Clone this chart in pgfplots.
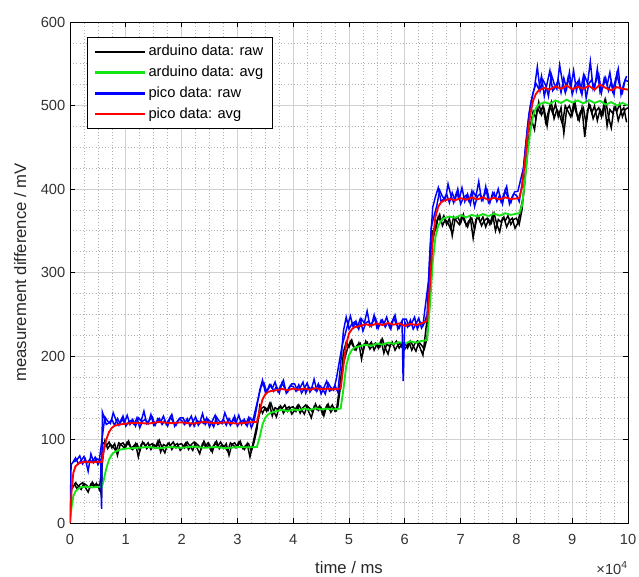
\documentclass[border=0pt]{standalone}
\usepackage{fontspec}
\setmainfont{Liberation Sans}
\usepackage{pgfplots}
\pgfplotsset{compat=1.18}
\definecolor{mgreen}{RGB}{20,230,20}
\definecolor{mblue}{RGB}{0,0,255}
\definecolor{mred}{RGB}{255,0,0}
\begin{document}
\begin{tikzpicture}
\begin{axis}[
  scale only axis, width=418.5pt, height=375.75pt,
  xmin=0, xmax=10, ymin=0, ymax=600,
  xtick={0,1,...,10}, ytick={0,100,...,600},
  minor x tick num=3, minor y tick num=3,
  grid=both,
  major grid style={black!18, line width=0.5pt},
  minor grid style={black!30, dotted, line width=0.45pt},
  tick align=inside, major tick length=4pt, minor tick length=0pt,
  tick style={black, line width=0.5pt},
  axis line style={black, line width=0.6pt},
  /pgf/number format/assume math mode=true,
  ticklabel style={font=\fontsize{11}{13}\selectfont, text=black!80},
  xticklabel style={yshift=-5pt},
  xlabel={time / ms}, ylabel={measurement difference / mV},
  label style={font=\fontsize{12.5}{15}\selectfont, text=black!85},
  xlabel style={yshift=-6pt},
  ylabel style={yshift=4pt},
  legend style={at={(0.030,0.970)}, anchor=north west, draw=black, line width=0.5pt,
    font=\fontsize{11}{13}\selectfont, row sep=2.2pt, inner xsep=5pt, inner ysep=4pt},
  legend cell align=left,
  legend image code/.code={\draw[#1, line width=1.6pt] (0pt,0pt) -- (37.5pt,0pt);},
]
\addplot[black, line width=1.1pt] coordinates {
(0,0) (0.02,40) (0.05,42.6) (0.1,48.2) (0.15,44.2) (0.2,40.2) (0.25,47.4) (0.3,45) (0.35,41.8) (0.4,49) (0.45,43.4) (0.5,45.8) (0.55,38.6) (0.565,30) (0.58,95) (0.6,96) (0.65,92) (0.7,97) (0.75,90) (0.8,95) (0.85,81) (0.9,94) (0.95,96) (1,91) (1.05,98) (1.1,89) (1.15,93) (1.2,95) (1.25,86) (1.3,97) (1.35,92) (1.4,96) (1.45,88) (1.5,94) (1.55,91) (1.6,99) (1.65,90) (1.7,84) (1.75,95) (1.8,93) (1.85,97) (1.9,90) (1.95,94) (2,95) (2.05,90) (2.1,97) (2.15,92) (2.2,87) (2.25,96) (2.3,93) (2.35,89) (2.4,98) (2.45,91) (2.5,94) (2.55,85) (2.6,96) (2.65,92) (2.7,97) (2.75,90) (2.8,95) (2.85,81) (2.9,94) (2.95,96) (3,91) (3.05,98) (3.1,89) (3.15,93) (3.2,95) (3.25,86) (3.3,97) (3.35,112) (3.4,140) (3.45,131.5) (3.5,138) (3.55,134.8) (3.6,143.6) (3.65,133.7) (3.7,127.1) (3.75,139.2) (3.8,137) (3.85,141.4) (3.9,133.7) (3.95,138.1) (4,139.2) (4.05,133.7) (4.1,141.4) (4.15,135.9) (4.2,130.4) (4.25,140.3) (4.3,137) (4.35,132.6) (4.4,142.5) (4.45,134.8) (4.5,138.1) (4.55,128.2) (4.6,140.3) (4.65,135.9) (4.7,141.4) (4.75,133.7) (4.8,139.2) (4.85,165) (4.9,205) (4.95,216.6) (5,210.6) (5.05,219) (5.1,208.2) (5.15,213) (5.2,215.4) (5.25,204.6) (5.3,217.8) (5.35,211.8) (5.4,216.6) (5.45,207) (5.5,214.2) (5.55,210.6) (5.6,220.2) (5.65,209.4) (5.7,202.2) (5.75,215.4) (5.8,213) (5.85,217.8) (5.9,209.4) (5.95,214.2) (6,215.4) (6.05,209.4) (6.1,217.8) (6.15,211.8) (6.2,205.8) (6.25,216.6) (6.3,213) (6.35,208.2) (6.4,222) (6.45,300) (6.5,350) (6.55,350) (6.6,366.5) (6.65,360.5) (6.7,368) (6.75,357.5) (6.8,365) (6.85,344) (6.9,363.5) (6.95,366.5) (7,359) (7.05,369.5) (7.1,356) (7.15,362) (7.2,365) (7.25,351.5) (7.3,368) (7.35,360.5) (7.4,366.5) (7.45,354.5) (7.5,363.5) (7.55,359) (7.6,371) (7.65,357.5) (7.7,348.5) (7.75,365) (7.8,362) (7.85,368) (7.9,357.5) (7.95,363.5) (8,365) (8.05,357.5) (8.1,375) (8.15,410) (8.2,445) (8.25,475) (8.3,493) (8.35,484.2) (8.4,504) (8.45,488.6) (8.5,495.2) (8.55,475.4) (8.6,499.6) (8.65,490.8) (8.7,501.8) (8.75,486.4) (8.8,497.4) (8.85,466.6) (8.9,495.2) (8.95,499.6) (9,488.6) (9.05,504) (9.1,484.2) (9.15,493) (9.2,497.4) (9.25,477.6) (9.3,501.8) (9.35,490.8) (9.4,499.6) (9.45,482) (9.5,495.2) (9.55,488.6) (9.6,506.2) (9.65,486.4) (9.7,473.2) (9.75,497.4) (9.8,493) (9.85,501.8) (9.9,486.4) (9.95,495.2) (10,497.4)
};
\addlegendentry{arduino data: raw}
\addplot[black, line width=1.1pt, forget plot] coordinates {
(0.075,47.4) (0.125,41) (0.175,45.8) (0.225,48.2) (0.275,42.6) (0.325,37) (0.375,46.6) (0.425,44.2) (0.475,47.4) (0.525,40.2)
(0.625,98) (0.675,89) (0.725,94) (0.775,91) (0.825,86) (0.875,96) (0.925,93) (0.975,90) (1.025,97) (1.075,92) (1.125,88) (1.175,95) (1.225,79) (1.275,94) (1.325,96) (1.375,89) (1.425,93) (1.475,95) (1.525,90) (1.575,98) (1.625,85) (1.675,94) (1.725,92) (1.775,96) (1.825,88) (1.875,93) (1.925,95) (1.975,87) (2.025,91) (2.075,96) (2.125,88) (2.175,94) (2.225,97) (2.275,90) (2.325,83) (2.375,95) (2.425,92) (2.475,96) (2.525,87) (2.575,93) (2.625,98) (2.675,89) (2.725,94) (2.775,91) (2.825,86) (2.875,96) (2.925,93) (2.975,90) (3.025,97) (3.075,92) (3.125,88) (3.175,95) (3.225,79) (3.275,94) (3.375,125)
(3.425,137) (3.475,139.2) (3.525,133.7) (3.575,142.5) (3.625,128.2) (3.675,138.1) (3.725,135.9) (3.775,140.3) (3.825,131.5) (3.875,137) (3.925,139.2) (3.975,130.4) (4.025,134.8) (4.075,140.3) (4.125,131.5) (4.175,138.1) (4.225,141.4) (4.275,133.7) (4.325,126) (4.375,139.2) (4.425,135.9) (4.475,140.3) (4.525,130.4) (4.575,137) (4.625,142.5) (4.675,132.6) (4.725,138.1) (4.775,134.8) (4.875,185)
(4.975,209.4) (5.025,217.8) (5.075,211.8) (5.125,207) (5.175,215.4) (5.225,196.2) (5.275,214.2) (5.325,216.6) (5.375,208.2) (5.425,213) (5.475,215.4) (5.525,209.4) (5.575,219) (5.625,203.4) (5.675,214.2) (5.725,211.8) (5.775,216.6) (5.825,207) (5.875,213) (5.925,215.4) (5.975,205.8) (6.025,210.6) (6.075,216.6) (6.125,207) (6.175,214.2) (6.225,217.8) (6.275,209.4) (6.325,201) (6.425,260) (6.475,330)
(6.575,362) (6.625,369.5) (6.675,356) (6.725,363.5) (6.775,359) (6.825,351.5) (6.875,366.5) (6.925,362) (6.975,357.5) (7.025,368) (7.075,360.5) (7.125,354.5) (7.175,365) (7.225,341) (7.275,363.5) (7.325,366.5) (7.375,356) (7.425,362) (7.475,365) (7.525,357.5) (7.575,369.5) (7.625,350) (7.675,363.5) (7.725,360.5) (7.775,366.5) (7.825,354.5) (7.875,362) (7.925,365) (7.975,353) (8.025,359) (8.125,392) (8.175,428) (8.225,462) (8.275,482)
(8.325,471) (8.375,497.4) (8.425,490.8) (8.475,499.6) (8.525,479.8) (8.575,493) (8.625,504) (8.675,484.2) (8.725,495.2) (8.775,488.6) (8.825,477.6) (8.875,499.6) (8.925,493) (8.975,486.4) (9.025,501.8) (9.075,490.8) (9.125,482) (9.175,497.4) (9.225,462.2) (9.275,495.2) (9.325,499.6) (9.375,484.2) (9.425,493) (9.475,497.4) (9.525,486.4) (9.575,504) (9.625,475.4) (9.675,495.2) (9.725,490.8) (9.775,499.6) (9.825,482) (9.875,493) (9.925,497.4) (9.975,479.8)
};
\addplot[mgreen, line width=1.4pt] coordinates {
(0,0) (0.03,20) (0.06,32) (0.1,38) (0.15,41) (0.2,43) (0.3,43.5) (0.4,42.5) (0.5,43.5) (0.57,43) (0.6,50) (0.65,65) (0.7,76) (0.75,82) (0.8,85) (0.9,88) (1,89) (1.2,90) (1.4,91) (1.6,89.5) (1.8,91) (2,90) (2.2,91.5) (2.4,90) (2.6,91) (2.8,89.5) (3,91) (3.2,90.5) (3.35,91) (3.4,103) (3.45,118) (3.5,126) (3.55,130) (3.6,132) (3.7,134) (3.8,135.5) (3.9,134) (4,136) (4.1,135) (4.2,137) (4.3,135.5) (4.4,137.5) (4.5,136) (4.6,137) (4.7,136) (4.85,137) (4.9,160) (4.95,188) (5,201) (5.05,207) (5.1,210) (5.2,212) (5.3,213.5) (5.4,212) (5.5,215) (5.6,213.5) (5.7,216) (5.8,214.5) (5.9,216.5) (6,215) (6.1,217.5) (6.2,216) (6.3,218) (6.4,219) (6.45,260) (6.5,312) (6.55,343) (6.6,356) (6.65,362) (6.7,365) (6.8,367) (6.9,365.5) (7,368.5) (7.1,366) (7.2,369) (7.3,367) (7.4,370) (7.5,367.5) (7.6,370.5) (7.7,368) (7.8,371) (7.9,369) (8.05,371) (8.1,380) (8.15,408) (8.2,442) (8.25,470) (8.3,488) (8.35,497) (8.4,501) (8.5,504) (8.6,502) (8.7,506) (8.8,503) (8.9,507) (9,503.5) (9.1,506) (9.2,502.5) (9.3,506.5) (9.4,503) (9.5,505.5) (9.6,501) (9.7,504) (9.8,500) (9.9,503) (10,500)
};
\addlegendentry{arduino data: avg}
\addplot[mblue, line width=1.1pt] coordinates {
(0,0) (0.02,70) (0.05,72.4) (0.1,78) (0.15,70.8) (0.2,74.8) (0.25,79.6) (0.3,71.6) (0.35,75.6) (0.4,73.2) (0.45,78.8) (0.5,70) (0.55,75.6) (0.565,17) (0.58,133) (0.6,129) (0.65,118) (0.7,120) (0.75,124) (0.8,117) (0.85,125) (0.9,119) (0.95,128) (1,116) (1.05,121) (1.1,123) (1.15,118) (1.2,126) (1.25,114) (1.3,122) (1.35,124) (1.4,119) (1.45,130) (1.5,117) (1.55,120) (1.6,125) (1.65,118) (1.7,123) (1.75,116) (1.8,127) (1.85,121) (1.9,117) (1.95,124) (2,123) (2.05,118) (2.1,125) (2.15,116) (2.2,121) (2.25,127) (2.3,117) (2.35,122) (2.4,119) (2.45,126) (2.5,115) (2.55,122) (2.6,129) (2.65,118) (2.7,120) (2.75,124) (2.8,117) (2.85,125) (2.9,119) (2.95,128) (3,116) (3.05,121) (3.1,123) (3.15,118) (3.2,126) (3.25,114) (3.3,122) (3.35,140) (3.4,159) (3.45,171) (3.5,156.7) (3.55,160) (3.6,165.5) (3.65,157.8) (3.7,163.3) (3.75,155.6) (3.8,167.7) (3.85,161.1) (3.9,156.7) (3.95,164.4) (4,163.3) (4.05,157.8) (4.1,165.5) (4.15,155.6) (4.2,161.1) (4.25,167.7) (4.3,156.7) (4.35,162.2) (4.4,158.9) (4.45,166.6) (4.5,154.5) (4.55,162.2) (4.6,169.9) (4.65,157.8) (4.7,160) (4.75,164.4) (4.8,156.7) (4.85,190) (4.9,230) (4.95,246.6) (5,232.2) (5.05,238.2) (5.1,240.6) (5.15,234.6) (5.2,244.2) (5.25,229.8) (5.3,239.4) (5.35,241.8) (5.4,235.8) (5.45,249) (5.5,233.4) (5.55,237) (5.6,243) (5.65,234.6) (5.7,240.6) (5.75,232.2) (5.8,245.4) (5.85,238.2) (5.9,233.4) (5.95,241.8) (5.97,170) (6,240.6) (6.05,234.6) (6.1,243) (6.15,232.2) (6.2,238.2) (6.25,245.4) (6.3,233.4) (6.35,239.4) (6.4,250) (6.45,325) (6.5,378) (6.55,391) (6.6,401.5) (6.65,385) (6.7,388) (6.75,394) (6.8,383.5) (6.85,395.5) (6.9,386.5) (6.95,400) (7,382) (7.05,389.5) (7.1,392.5) (7.15,385) (7.2,397) (7.25,379) (7.3,391) (7.35,394) (7.4,386.5) (7.45,403) (7.5,383.5) (7.55,388) (7.6,395.5) (7.65,385) (7.7,392.5) (7.75,382) (7.8,398.5) (7.85,389.5) (7.9,383.5) (7.95,394) (8,392.5) (8.05,385) (8.1,405) (8.15,440) (8.2,475) (8.25,500) (8.3,515.4) (8.35,526.4) (8.4,519.8) (8.45,535.2) (8.5,511) (8.55,526.4) (8.6,541.8) (8.65,517.6) (8.7,522) (8.75,530.8) (8.8,515.4) (8.85,533) (8.9,519.8) (8.95,539.6) (9,513.2) (9.05,524.2) (9.1,528.6) (9.15,517.6) (9.2,535.2) (9.25,508.8) (9.3,526.4) (9.35,530.8) (9.4,519.8) (9.45,544) (9.5,515.4) (9.55,522) (9.6,533) (9.65,517.6) (9.7,528.6) (9.75,513.2) (9.8,537.4) (9.85,524.2) (9.9,515.4) (9.95,530.8) (10,528.6)
};
\addlegendentry{pico data: raw}
\addplot[mblue, line width=1.1pt, forget plot] coordinates {
(0.075,73.2) (0.125,75.6) (0.175,80.4) (0.225,70.8) (0.275,76.4) (0.325,62) (0.375,82.8) (0.425,72.4) (0.475,77.2) (0.525,74.8)
(0.625,127) (0.675,122) (0.725,119) (0.775,132) (0.825,123) (0.875,117) (0.925,125) (0.975,120) (1.025,129) (1.075,118) (1.125,124) (1.175,116) (1.225,126) (1.275,122) (1.325,134) (1.375,119) (1.425,123) (1.475,127) (1.525,117) (1.575,125) (1.625,121) (1.675,128) (1.725,118) (1.775,124) (1.825,130) (1.875,116) (1.925,122) (1.975,126) (2.025,126) (2.075,119) (2.125,122) (2.175,128) (2.225,116) (2.275,123) (2.325,120) (2.375,131) (2.425,118) (2.475,124) (2.525,121) (2.575,115) (2.625,127) (2.675,122) (2.725,119) (2.775,132) (2.825,123) (2.875,117) (2.925,125) (2.975,120) (3.025,129) (3.075,118) (3.125,124) (3.175,116) (3.225,126) (3.275,122) (3.375,150)
(3.425,163.3) (3.475,167.7) (3.525,156.7) (3.575,165.5) (3.625,161.1) (3.675,168.8) (3.725,157.8) (3.775,164.4) (3.825,171) (3.875,155.6) (3.925,162.2) (3.975,166.6) (4.025,166.6) (4.075,158.9) (4.125,162.2) (4.175,168.8) (4.225,155.6) (4.275,163.3) (4.325,160) (4.375,172.1) (4.425,157.8) (4.475,164.4) (4.525,161.1) (4.575,154.5) (4.625,167.7) (4.675,162.2) (4.725,158.9) (4.775,173.2) (4.875,212)
(4.975,237) (5.025,247.8) (5.075,234.6) (5.125,241.8) (5.175,232.2) (5.225,244.2) (5.275,239.4) (5.325,253.8) (5.375,235.8) (5.425,240.6) (5.475,245.4) (5.525,233.4) (5.575,243) (5.625,238.2) (5.675,246.6) (5.725,234.6) (5.775,241.8) (5.825,249) (5.875,232.2) (5.925,239.4) (5.975,244.2) (6.025,244.2) (6.075,235.8) (6.125,239.4) (6.175,246.6) (6.225,232.2) (6.275,240.6) (6.325,237) (6.425,290) (6.475,355)
(6.575,380.5) (6.625,398.5) (6.675,391) (6.725,386.5) (6.775,406) (6.825,392.5) (6.875,383.5) (6.925,395.5) (6.975,388) (7.025,401.5) (7.075,385) (7.125,394) (7.175,382) (7.225,397) (7.275,391) (7.325,409) (7.375,386.5) (7.425,392.5) (7.475,398.5) (7.525,383.5) (7.575,395.5) (7.625,389.5) (7.675,400) (7.725,385) (7.775,394) (7.825,403) (7.875,382) (7.925,391) (7.975,397) (8.025,397) (8.125,425) (8.175,458) (8.225,490) (8.275,508)
(8.325,522) (8.375,546.2) (8.425,517.6) (8.475,530.8) (8.525,524.2) (8.575,511) (8.625,537.4) (8.675,526.4) (8.725,519.8) (8.775,548.4) (8.825,528.6) (8.875,515.4) (8.925,533) (8.975,522) (9.025,541.8) (9.075,517.6) (9.125,530.8) (9.175,513.2) (9.225,535.2) (9.275,526.4) (9.325,552.8) (9.375,519.8) (9.425,528.6) (9.475,537.4) (9.525,515.4) (9.575,533) (9.625,524.2) (9.675,539.6) (9.725,517.6) (9.775,530.8) (9.825,544) (9.875,513.2) (9.925,526.4) (9.975,535.2)
};
\addplot[mred, line width=1.4pt] coordinates {
(0,0) (0.03,40) (0.06,60) (0.1,68) (0.15,71) (0.2,72.5) (0.3,73.5) (0.4,72.5) (0.5,73.5) (0.57,73) (0.6,85) (0.65,100) (0.7,109) (0.75,114) (0.8,116.5) (0.9,118) (1,119) (1.2,120) (1.4,119) (1.6,121) (1.8,119.5) (2,120.5) (2.2,119) (2.4,121) (2.6,119.5) (2.8,120.5) (3,119) (3.2,120.5) (3.35,121) (3.4,135) (3.45,148) (3.5,154) (3.55,157) (3.6,158) (3.7,159) (3.8,160.5) (3.9,159) (4,161) (4.1,159.5) (4.2,161) (4.3,159.5) (4.4,161.5) (4.5,160) (4.6,161) (4.7,160) (4.85,161) (4.9,188) (4.95,214) (5,227) (5.05,232) (5.1,234.5) (5.2,236) (5.3,238) (5.4,236.5) (5.5,239) (5.6,237) (5.7,239.5) (5.8,237.5) (5.9,239) (6,236) (6.1,238.5) (6.2,237) (6.3,239) (6.4,242) (6.45,285) (6.5,338) (6.55,367) (6.6,379) (6.65,384) (6.7,386) (6.8,388) (6.9,386.5) (7,389) (7.1,387) (7.2,390) (7.3,387.5) (7.4,390) (7.5,387) (7.6,389.5) (7.7,387.5) (7.8,390) (7.9,388) (8.05,389) (8.1,402) (8.15,432) (8.2,465) (8.25,490) (8.3,506) (8.35,514) (8.4,518) (8.5,521) (8.6,519) (8.7,523) (8.8,520) (8.9,524) (9,519.5) (9.1,522.5) (9.2,520) (9.3,523.5) (9.4,519) (9.5,525) (9.6,521) (9.7,518) (9.8,522) (9.9,520) (10,519)
};
\addlegendentry{pico data: avg}
\end{axis}
\node[anchor=north east, font=\fontsize{11}{13}\selectfont, text=black!80, inner sep=0pt] at ([yshift=-29pt]current axis.south east) {×10\textsuperscript{4}};
\pgfresetboundingbox
\path ([xshift=-52.5pt, yshift=-40.5pt]current axis.south west) rectangle ([xshift=8.25pt, yshift=16.5pt]current axis.north east);
\end{tikzpicture}
\end{document}
